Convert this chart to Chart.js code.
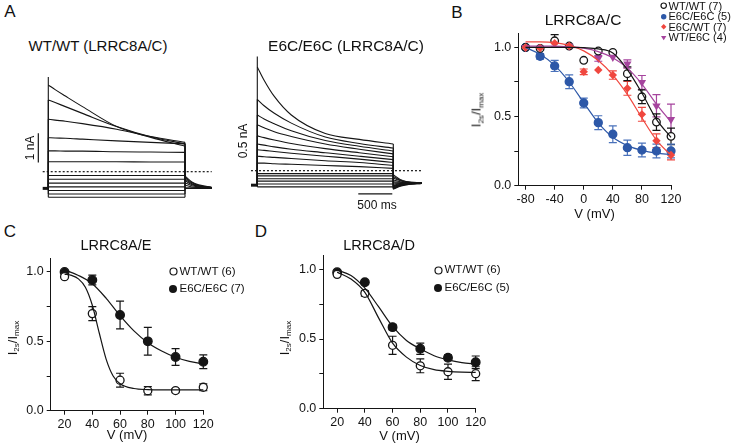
<!DOCTYPE html>
<html><head><meta charset="utf-8">
<script src="https://cdn.jsdelivr.net/npm/chart.js@4.4.1/dist/chart.umd.min.js"></script>
<style>
html,body{margin:0;padding:0;background:#fff;}
#fig{position:relative;width:745px;height:447px;overflow:hidden;font-family:'Liberation Sans',Arial,sans-serif;color:#111;}
canvas{position:absolute;}
.t{position:absolute;transform:translate(-50%,-50%);white-space:nowrap;line-height:1;z-index:2;}
.l{position:absolute;transform:translateY(-50%);white-space:nowrap;line-height:1;z-index:2;}
.r{transform:translate(-50%,-50%) rotate(-90deg);}
.m{position:absolute;z-index:2;}
sub{font-size:0.62em;vertical-align:-0.35em;line-height:0;}
</style></head><body><div id="fig"></div>
<script>
// ================= DATA =================
// Panel A: current traces (nA) sampled at these times (ms) during the 2 s pulse
const tPulse = [0, 100, 250, 500, 1000, 1500, 2000];
const wtTraces = [
  [2.96, 2.80, 2.58, 2.22, 1.54, 1.17, 0.87],
  [2.45, 2.36, 2.22, 1.99, 1.54, 1.19, 0.95],
  [1.79, 1.76, 1.72, 1.64, 1.45, 1.20, 1.00],
  [1.16, 1.15, 1.14, 1.11, 1.05, 1.00, 0.95],
  [0.71, 0.71, 0.70, 0.70, 0.68, 0.67, 0.66],
  [0.34, 0.34, 0.34, 0.34, 0.34, 0.33, 0.33],
  [-0.13, -0.13, -0.13, -0.13, -0.13, -0.13, -0.13],
  [-0.26, -0.26, -0.26, -0.26, -0.26, -0.26, -0.26],
  [-0.39, -0.39, -0.39, -0.39, -0.39, -0.39, -0.39],
  [-0.52, -0.52, -0.52, -0.52, -0.52, -0.52, -0.52],
  [-0.64, -0.64, -0.64, -0.64, -0.64, -0.64, -0.64],
  [-0.76, -0.76, -0.76, -0.76, -0.76, -0.76, -0.76],
  [-0.87, -0.87, -0.87, -0.87, -0.87, -0.87, -0.87]
];
const wtTailTimes = [2000, 2100, 2200, 2390];
const wtTails = [
  [-0.15, -0.35, -0.45, -0.53],
  [-0.20, -0.38, -0.47, -0.54],
  [-0.25, -0.41, -0.49, -0.54],
  [-0.30, -0.44, -0.50, -0.55],
  [-0.38, -0.48, -0.52, -0.55],
  [-0.46, -0.52, -0.54, -0.56],
  [-0.57, -0.57, -0.57, -0.57],
  [-0.57, -0.57, -0.57, -0.57],
  [-0.57, -0.57, -0.57, -0.57],
  [-0.57, -0.57, -0.57, -0.57],
  [-0.57, -0.57, -0.57, -0.57],
  [-0.57, -0.57, -0.57, -0.57],
  [-0.57, -0.57, -0.57, -0.57]
];
const wtHold = -0.57, wtPeak = 3.23, wtPreT = -82;

const e6Traces = [
  [1.79, 1.56, 1.28, 0.96, 0.64, 0.54, 0.46],
  [1.23, 1.12, 0.99, 0.82, 0.58, 0.47, 0.39],
  [0.96, 0.89, 0.81, 0.69, 0.52, 0.42, 0.34],
  [0.79, 0.74, 0.67, 0.59, 0.46, 0.37, 0.29],
  [0.60, 0.57, 0.53, 0.47, 0.38, 0.31, 0.24],
  [0.46, 0.44, 0.41, 0.37, 0.31, 0.25, 0.19],
  [0.36, 0.35, 0.33, 0.30, 0.25, 0.20, 0.14],
  [0.25, 0.24, 0.23, 0.21, 0.17, 0.14, 0.09],
  [0.13, 0.13, 0.12, 0.11, 0.09, 0.07, 0.04],
  [-0.05, -0.05, -0.05, -0.05, -0.05, -0.05, -0.05],
  [-0.09, -0.09, -0.09, -0.09, -0.09, -0.09, -0.09],
  [-0.14, -0.14, -0.14, -0.14, -0.14, -0.14, -0.14],
  [-0.18, -0.18, -0.18, -0.18, -0.18, -0.18, -0.18],
  [-0.23, -0.23, -0.23, -0.23, -0.23, -0.23, -0.23],
  [-0.28, -0.28, -0.28, -0.28, -0.28, -0.28, -0.28]
];
const e6TailTimes = [2000, 2100, 2200, 2418];
const e6Tails = [
  [-0.07, -0.15, -0.19, -0.21],
  [-0.10, -0.16, -0.19, -0.21],
  [-0.13, -0.17, -0.20, -0.21],
  [-0.16, -0.19, -0.20, -0.21],
  [-0.19, -0.20, -0.21, -0.21],
  [-0.21, -0.21, -0.21, -0.21],
  [-0.23, -0.22, -0.22, -0.21],
  [-0.25, -0.23, -0.22, -0.21],
  [-0.26, -0.24, -0.22, -0.21],
  [-0.27, -0.24, -0.22, -0.22],
  [-0.28, -0.25, -0.23, -0.22],
  [-0.29, -0.25, -0.23, -0.22],
  [-0.30, -0.26, -0.23, -0.22],
  [-0.31, -0.26, -0.24, -0.22],
  [-0.32, -0.27, -0.24, -0.22]
];
const e6Hold = -0.25, e6Peak = 1.97, e6PreT = -93;

// scale bars (data units)
const wtBar = { nA: 1, at: -146, from: 0.31 };
const e6Bar = { nA: 0.5, at: -137, from: 0.21 };
const timeBar = { ms: 500, from: 1485, level: -0.40 };

// Panel B: LRRC8A/C
const vB = [-80, -60, -40, -20, 0, 20, 40, 60, 80, 100, 120];
const bWT     = [1.0, 0.993, 1.048, 1.01, 0.907, 0.974, 0.964, 0.81, 0.643, 0.46, 0.357];
const bWTerr  = [0, 0, 0.045, 0, 0, 0, 0, 0.05, 0.05, 0.06, 0.06];
const bE6     = [1.0, 0.936, 0.866, 0.752, 0.598, 0.456, 0.372, 0.275, 0.258, 0.251, 0.251];
const bE6err  = [0, 0.02, 0.04, 0.05, 0.035, 0.05, 0.06, 0.055, 0.05, 0.05, 0.05];
const bE6WT   = [1.0, 0.996, 1.03, 1.01, 0.824, 0.837, 0.80, 0.704, 0.516, 0.325, 0.222];
const bE6WTerr= [0, 0, 0, 0, 0.02, 0, 0.03, 0.05, 0.05, 0.05, 0.035];
const bWTE6   = [1.0, null, null, 1.01, null, 0.92, 0.93, 0.88, 0.747, 0.578, 0.48];
const bWTE6err= [0, 0, 0, 0, 0, 0.02, 0, 0.03, 0.05, 0.08, 0.11];
const bFitWT   = [1.0, 1.0, 1.0, 1.0, 0.998, 0.99, 0.96, 0.84, 0.67, 0.48, 0.35];
const bFitE6   = [1.0, 0.95, 0.87, 0.75, 0.60, 0.455, 0.35, 0.29, 0.255, 0.235, 0.225];
const bFitE6WT = [1.04, 1.04, 1.035, 1.015, 0.975, 0.905, 0.80, 0.66, 0.49, 0.33, 0.22];
const bFitWTE6 = [1.01, 1.01, 1.01, 1.005, 0.995, 0.97, 0.925, 0.85, 0.735, 0.59, 0.46];
const bXTicks = [-80, -40, 0, 40, 80, 120];

// Panel C: LRRC8A/E
const vC = [20, 40, 60, 80, 100, 120];
const cWT = [0.966, 0.70, 0.22, 0.144, 0.145, 0.169];
const cWTerr = [0, 0.05, 0.05, 0.03, 0.015, 0.025];
const cE6 = [1.0, 0.942, 0.69, 0.50, 0.387, 0.353];
const cE6err = [0, 0.035, 0.10, 0.10, 0.06, 0.05];
const cFitWTv = [20, 25, 30, 35, 40, 45, 50, 55, 60, 70, 80, 90, 100, 110, 120];
const cFitWT  = [0.985, 0.975, 0.95, 0.89, 0.76, 0.56, 0.37, 0.25, 0.195, 0.16, 0.152, 0.15, 0.15, 0.15, 0.15];
const cFitE6v = [20, 30, 40, 50, 60, 70, 80, 90, 100, 110, 120];
const cFitE6  = [1.015, 0.975, 0.915, 0.81, 0.685, 0.575, 0.49, 0.43, 0.385, 0.355, 0.338];

// Panel D: LRRC8A/D
const vD = [20, 40, 60, 80, 100, 120];
const dWT = [0.964, 0.828, 0.455, 0.308, 0.265, 0.251];
const dWTerr = [0, 0.02, 0.065, 0.05, 0.055, 0.05];
const dE6 = [0.979, 0.907, 0.585, 0.43, 0.366, 0.333];
const dE6err = [0, 0, 0.02, 0.04, 0.02, 0.045];
const dFitV  = [20, 30, 40, 50, 60, 70, 80, 90, 100, 110, 120];
const dFitWT = [0.98, 0.93, 0.835, 0.65, 0.47, 0.37, 0.31, 0.28, 0.268, 0.262, 0.26];
const dFitE6 = [0.995, 0.955, 0.865, 0.73, 0.59, 0.49, 0.43, 0.38, 0.35, 0.33, 0.32];

const cdXTicks = [20, 40, 60, 80, 100, 120];
const yTicks = [0, 0.25, 0.5, 0.75, 1.0];
const yLabeled = [0, 0.5, 1.0];

// ================= DRAWING =================
const FONT = "'Liberation Sans', Arial, sans-serif";
const INK = '#151515';
const BLUE = '#2d58a8', RED = '#f0473f', MAG = '#a6449e';
const fig = document.getElementById('fig');

const pts = (xs, ys) => xs.map((x, i) => ({ x, y: ys[i] })).filter(p => p.y !== null);

const errorBars = {
  id: 'errorBars',
  beforeDatasetsDraw(chart) {
    const ctx = chart.ctx, xs = chart.scales.x, ys = chart.scales.y;
    chart.data.datasets.forEach(ds => {
      if (!ds.errors) return;
      ctx.save();
      ctx.strokeStyle = ds.errColor || ds.borderColor;
      ctx.lineWidth = 1.2;
      ds.data.forEach((p, j) => {
        const e = ds.errors[j];
        if (!e) return;
        const x = xs.getPixelForValue(p.x);
        const y1 = ys.getPixelForValue(p.y + e), y2 = ys.getPixelForValue(p.y - e);
        ctx.beginPath();
        ctx.moveTo(x, y1); ctx.lineTo(x, y2);
        ctx.moveTo(x - 4, y1); ctx.lineTo(x + 4, y1);
        ctx.moveTo(x - 4, y2); ctx.lineTo(x + 4, y2);
        ctx.stroke();
      });
      ctx.restore();
    });
  }
};

function canvasAt(box) {
  const c = document.createElement('canvas');
  c.width = box.w; c.height = box.h;
  c.style.left = box.x + 'px'; c.style.top = box.y + 'px';
  c.style.width = box.w + 'px'; c.style.height = box.h + 'px';
  fig.appendChild(c);
  return c;
}

function axisCommon() {
  return {
    grid: { display: true, drawOnChartArea: false, drawTicks: true, tickLength: 4, color: INK, lineWidth: 1 },
    border: { display: true, color: INK, width: 1 }
  };
}

function plotChart(box, area, xr, xTicks, datasets) {
  const c = canvasAt(box);
  return new Chart(c, {
    type: 'scatter',
    data: { datasets },
    options: {
      responsive: false, animation: false, devicePixelRatio: 1,
      layout: { padding: { left: 0, bottom: 0, top: area.t - box.y, right: box.x + box.w - area.r } },
      plugins: { legend: { display: false }, tooltip: { enabled: false } },
      scales: {
        x: Object.assign(axisCommon(), {
          type: 'linear', min: xr[0], max: xr[1],
          afterBuildTicks(s) { s.ticks = xTicks.map(v => ({ value: v })); },
          afterFit(s) { s.height = box.y + box.h - area.b; },
          ticks: { color: INK, font: { family: FONT, size: 12.5 }, padding: 2, maxRotation: 0, autoSkip: false, callback: v => String(v) }
        }),
        y: Object.assign(axisCommon(), {
          type: 'linear', min: 0, max: 1.1,
          afterBuildTicks(s) { s.ticks = yTicks.map(v => ({ value: v })); },
          afterFit(s) { s.width = area.l - box.x; },
          ticks: { color: INK, font: { family: FONT, size: 12.5 }, padding: 3, autoSkip: false, callback: v => yLabeled.includes(v) ? v.toFixed(1) : '' }
        })
      }
    },
    plugins: [errorBars]
  });
}

const fit = (data, color) => ({ type: 'line', data, borderColor: color, borderWidth: 1.2, pointRadius: 0, cubicInterpolationMode: 'monotone', clip: false, fill: false });
const marks = (data, errors, style) => Object.assign({ type: 'scatter', data, errors, clip: false, pointBorderWidth: 1.3 }, style);

// ---------- Panel B ----------
plotChart({ x: 478, y: 20, w: 212, h: 210 }, { l: 518.3, t: 33.6, r: 671, b: 185.7 }, [-90, 120], bXTicks, [
  fit(pts(vB, bFitWT), INK),
  fit(pts(vB, bFitE6WT), RED),
  fit(pts(vB, bFitWTE6), MAG),
  fit(pts(vB, bFitE6), BLUE),
  marks(pts(vB, bE6WT), bE6WTerr.filter((e, i) => bE6WT[i] !== null), { pointStyle: 'rectRot', pointRadius: 4.2, backgroundColor: RED, borderColor: RED, pointBorderWidth: 0 }),
  marks(pts(vB, bWTE6), bWTE6err.filter((e, i) => bWTE6[i] !== null), { pointStyle: 'triangle', pointRotation: 180, pointRadius: 4.8, backgroundColor: MAG, borderColor: MAG, pointBorderWidth: 0 }),
  marks(pts(vB, bWT), bWTerr, { pointStyle: 'circle', pointRadius: 3.8, backgroundColor: '#fff', borderColor: INK }),
  marks(pts(vB, bE6), bE6err, { pointStyle: 'circle', pointRadius: 4, backgroundColor: BLUE, borderColor: BLUE, errColor: '#4a72bb' })
]);

// ---------- Panel C ----------
plotChart({ x: 5, y: 245, w: 218, h: 202 }, { l: 50.7, t: 258.1, r: 203.3, b: 410.7 }, [10, 120], cdXTicks, [
  fit(pts(cFitWTv, cFitWT), INK),
  fit(pts(cFitE6v, cFitE6), INK),
  marks(pts(vC, cWT), cWTerr, { pointStyle: 'circle', pointRadius: 4, backgroundColor: '#fff', borderColor: INK }),
  marks(pts(vC, cE6), cE6err, { pointStyle: 'circle', pointRadius: 4.3, backgroundColor: INK, borderColor: INK })
]);

// ---------- Panel D ----------
plotChart({ x: 280, y: 240, w: 216, h: 207 }, { l: 323.3, t: 255.4, r: 475.7, b: 408.7 }, [10, 120], cdXTicks, [
  fit(pts(dFitV, dFitWT), INK),
  fit(pts(dFitV, dFitE6), INK),
  marks(pts(vD, dWT), dWTerr, { pointStyle: 'circle', pointRadius: 4, backgroundColor: '#fff', borderColor: INK }),
  marks(pts(vD, dE6), dE6err, { pointStyle: 'circle', pointRadius: 4.3, backgroundColor: INK, borderColor: INK })
]);

// ---------- Panel A traces ----------
const seg = (data, w) => ({ type: 'line', data, borderColor: INK, borderWidth: w || 1.1, pointRadius: 0, tension: 0, clip: false, fill: false });
const smooth = (data) => ({ type: 'line', data, borderColor: INK, borderWidth: 1.1, pointRadius: 0, cubicInterpolationMode: 'monotone', clip: false, fill: false });

function traceSets(traces, tails, tailT, hold, preT, peak, bar, tbar) {
  const sets = [];
  const last = tPulse.length - 1;
  traces.forEach((v, i) => {
    const top = i === 0 ? Math.max(peak, v[0]) : v[0];
    sets.push(seg([{ x: 0, y: hold }, { x: 0, y: top }]));
    sets.push(smooth(tPulse.map((t, k) => ({ x: t, y: v[k] }))));
    sets.push(seg([{ x: tPulse[last], y: v[last] }, { x: tailT[0], y: tails[i][0] }]));
    sets.push(smooth(tailT.map((t, k) => ({ x: t, y: tails[i][k] }))));
  });
  sets.push(seg([{ x: preT, y: hold }, { x: 0, y: hold }], 3));
  // zero-current reference (dotted)
  sets.push(Object.assign(seg([{ x: preT, y: 0 }, { x: tailT[tailT.length - 1], y: 0 }], 1.2), { borderDash: [2, 2] }));
  // scale bars
  sets.push(seg([{ x: bar.at, y: bar.from }, { x: bar.at, y: bar.from + bar.nA }], 1.2));
  if (tbar) sets.push(seg([{ x: tbar.from, y: tbar.level }, { x: tbar.from + tbar.ms, y: tbar.level }], 1.2));
  return sets;
}

function traceChart(box, xr, yr, sets) {
  const c = canvasAt(box);
  new Chart(c, {
    type: 'line',
    data: { datasets: sets },
    options: {
      responsive: false, animation: false, devicePixelRatio: 1,
      layout: { padding: 0 },
      plugins: { legend: { display: false }, tooltip: { enabled: false } },
      scales: {
        x: { type: 'linear', min: xr[0], max: xr[1], display: false },
        y: { type: 'linear', min: yr[0], max: yr[1], display: false }
      }
    }
  });
}

traceChart({ x: 35, y: 70, w: 185, h: 135 }, [-194.6, 2512], [-1.137, 3.47],
  traceSets(wtTraces, wtTails, wtTailTimes, wtHold, wtPreT, wtPeak, wtBar, null));
traceChart({ x: 250, y: 50, w: 180, h: 160 }, [-107.4, 2539.7], [-0.678, 2.081],
  traceSets(e6Traces, e6Tails, e6TailTimes, e6Hold, e6PreT, e6Peak, e6Bar, timeBar));

// ---------- Text (HTML) ----------
function txt(html, x, y, size, cls, extra) {
  const d = document.createElement('div');
  d.className = cls || 't';
  d.innerHTML = html;
  d.style.left = x + 'px'; d.style.top = y + 'px'; d.style.fontSize = size + 'px';
  if (extra) Object.assign(d.style, extra);
  fig.appendChild(d);
}
function marker(kind, color, x, y, r) {
  const s = 2 * r + 4;
  const ns = 'http://www.w3.org/2000/svg';
  const svg = document.createElementNS(ns, 'svg');
  svg.setAttribute('width', s); svg.setAttribute('height', s);
  svg.setAttribute('class', 'm');
  svg.style.left = (x - s / 2) + 'px'; svg.style.top = (y - s / 2) + 'px';
  const c = s / 2;
  let el;
  if (kind === 'open' || kind === 'dot') {
    el = document.createElementNS(ns, 'circle');
    el.setAttribute('cx', c); el.setAttribute('cy', c); el.setAttribute('r', r);
    el.setAttribute('fill', kind === 'open' ? '#fff' : color);
    el.setAttribute('stroke', color); el.setAttribute('stroke-width', kind === 'open' ? 1.2 : 0);
  } else if (kind === 'diamond') {
    el = document.createElementNS(ns, 'polygon');
    el.setAttribute('points', `${c},${c - r} ${c + r},${c} ${c},${c + r} ${c - r},${c}`);
    el.setAttribute('fill', color);
  } else {
    el = document.createElementNS(ns, 'polygon');
    el.setAttribute('points', `${c - r},${c - r * 0.6} ${c + r},${c - r * 0.6} ${c},${c + r * 0.9}`);
    el.setAttribute('fill', color);
  }
  svg.appendChild(el);
  fig.appendChild(svg);
}

const Y_TITLE = 'I<sub>2s</sub>/I<sub>max</sub>';

// Panel letters
txt('A', 10, 11, 17);
txt('B', 457, 12, 17);
txt('C', 10, 231, 17);
txt('D', 261, 231, 17);

// Panel A
txt('WT/WT (LRRC8A/C)', 98, 45, 15);
txt('E6C/E6C (LRRC8A/C)', 346, 46, 15.5);
txt('1 nA', 30, 148, 12, 't r');
txt('0.5 nA', 243, 141, 12, 't r');
txt('500 ms', 377, 204.5, 12);

// Panel B
txt('LRRC8A/C', 583, 20, 15.5);
txt('V (mV)', 594.5, 213, 13);
txt(Y_TITLE, 476, 110, 13, 't r');
const legB = [['open', INK, 'WT/WT (7)'], ['dot', BLUE, 'E6C/E6C (5)'], ['diamond', RED, 'E6C/WT (7)'], ['tri', MAG, 'WT/E6C (4)']];
legB.forEach((e, i) => {
  const y = 6 + i * 10.4;
  marker(e[0], e[1], 664, y, 2.7);
  txt(e[2], 668.5, y, 11, 'l');
});

// Panel C
txt('LRRC8A/E', 116, 245, 14.5);
txt('V (mV)', 127, 434, 13);
txt(Y_TITLE, 12, 338, 13, 't r');
marker('open', INK, 173.3, 271.7, 3.5); txt('WT/WT (6)', 179.5, 271.7, 11.5, 'l');
marker('dot', INK, 173.3, 289.3, 4); txt('E6C/E6C (7)', 179.5, 289.3, 11.5, 'l');

// Panel D
txt('LRRC8A/D', 379, 245, 14.5);
txt('V (mV)', 399.5, 435, 13);
txt(Y_TITLE, 284, 338, 13, 't r');
marker('open', INK, 438.3, 270, 3.5); txt('WT/WT (6)', 444.5, 270, 11.5, 'l');
marker('dot', INK, 438.3, 288.3, 4); txt('E6C/E6C (5)', 444.5, 288.3, 11.5, 'l');
</script>
</body></html>
